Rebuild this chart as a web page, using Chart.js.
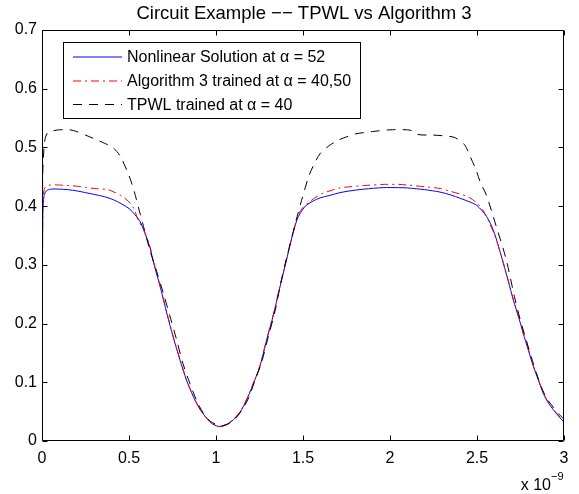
<!DOCTYPE html>
<html>
<head>
<meta charset="utf-8">
<script src="https://cdn.jsdelivr.net/npm/chart.js@4/dist/chart.umd.min.js"></script>
<style>
html,body{margin:0;padding:0;background:#fff;}
#wrap{width:579px;height:494px;}
</style>
</head>
<body>
<div id="wrap"><canvas id="c" width="579" height="494"></canvas></div>
<script>
// ---- data (time in units of 1e-9 s) ----
const titleText = 'Circuit Example \u2212\u2212 TPWL vs Algorithm 3';
const seriesNames = ['Nonlinear Solution at \u03b1 = 52', 'Algorithm 3 trained at \u03b1 = 40,50', 'TPWL trained at \u03b1 = 40'];
const xTickLabels = ['0', '0.5', '1', '1.5', '2', '2.5', '3'];
const yTickLabels = ['0', '0.1', '0.2', '0.3', '0.4', '0.5', '0.6', '0.7'];

const blueT = [0.002,0.005,0.012,0.025,0.05,0.1,0.15,0.2,0.25,0.3,0.36,0.41,0.456,0.5,0.533,0.563,0.59,0.62,0.64,0.68,0.717,0.755,0.793,0.83,0.87,0.91,0.946,0.98,1.023,1.06,1.1,1.138,1.176,1.215,1.253,1.291,1.33,1.368,1.4,1.425,1.45,1.473,1.5,1.521,1.56,1.598,1.65,1.713,1.77,1.85,1.96,2.05,2.1,2.2,2.287,2.35,2.402,2.46,2.5,2.556,2.594,2.62,2.651,2.68,2.709,2.74,2.766,2.795,2.824,2.855,2.881,2.91,2.939,2.97,3.0];
const blueV = [0.215,0.39,0.418,0.426,0.429,0.429,0.428,0.426,0.423,0.42,0.416,0.411,0.404,0.396,0.386,0.374,0.355,0.33,0.305,0.262,0.218,0.176,0.138,0.104,0.0755,0.053,0.039,0.029,0.0244,0.028,0.036,0.049,0.07,0.098,0.128,0.172,0.215,0.263,0.302,0.333,0.362,0.382,0.395,0.402,0.409,0.414,0.418,0.423,0.426,0.429,0.4315,0.4315,0.431,0.428,0.424,0.419,0.4135,0.407,0.401,0.382,0.359,0.335,0.303,0.272,0.24,0.21,0.183,0.155,0.127,0.102,0.081,0.065,0.053,0.042,0.032];

const redT = [0.002,0.005,0.012,0.025,0.05,0.1,0.15,0.2,0.25,0.3,0.38,0.42,0.46,0.5,0.53,0.55,0.59,0.62,0.64,0.68,0.717,0.755,0.793,0.83,0.87,0.91,0.946,0.98,1.023,1.06,1.1,1.138,1.176,1.215,1.253,1.291,1.33,1.368,1.4,1.425,1.45,1.473,1.5,1.54,1.6,1.655,1.713,1.77,1.85,1.96,2.05,2.1,2.2,2.29,2.35,2.42,2.46,2.5,2.54,2.57,2.6,2.63,2.651,2.68,2.709,2.74,2.766,2.795,2.824,2.855,2.881,2.91,2.939,2.97,3.0];
const redV = [0.205,0.4,0.428,0.434,0.436,0.436,0.435,0.434,0.432,0.43,0.428,0.423,0.417,0.407,0.395,0.378,0.356,0.331,0.307,0.263,0.219,0.177,0.139,0.105,0.076,0.053,0.039,0.03,0.025,0.029,0.037,0.05,0.071,0.099,0.129,0.173,0.216,0.264,0.303,0.334,0.363,0.385,0.398,0.408,0.42,0.426,0.431,0.433,0.435,0.437,0.437,0.436,0.433,0.43,0.425,0.419,0.414,0.405,0.39,0.372,0.352,0.325,0.304,0.273,0.241,0.211,0.184,0.156,0.128,0.103,0.082,0.066,0.054,0.043,0.033];

const blackT = [0.002,0.004,0.015,0.03,0.06,0.1,0.16,0.2,0.25,0.314,0.36,0.41,0.45,0.5,0.53,0.563,0.59,0.62,0.66,0.697,0.735,0.774,0.81,0.85,0.89,0.93,0.97,1.03,1.07,1.11,1.15,1.19,1.22,1.26,1.3,1.34,1.37,1.4,1.43,1.46,1.492,1.536,1.57,1.6,1.65,1.7,1.75,1.8,1.9,2.0,2.1,2.13,2.16,2.25,2.3,2.37,2.427,2.46,2.494,2.52,2.555,2.61,2.667,2.715,2.75,2.78,2.81,2.84,2.87,2.9,2.94,2.97,3.0];
const blackV = [0.21,0.45,0.51,0.524,0.528,0.53,0.53,0.527,0.521,0.513,0.507,0.499,0.485,0.452,0.425,0.388,0.358,0.325,0.288,0.252,0.213,0.172,0.132,0.098,0.068,0.046,0.033,0.026,0.029,0.038,0.053,0.075,0.1,0.132,0.177,0.222,0.266,0.305,0.34,0.375,0.41,0.453,0.475,0.49,0.503,0.512,0.518,0.523,0.527,0.53,0.53,0.528,0.522,0.521,0.52,0.517,0.505,0.485,0.462,0.44,0.418,0.366,0.31,0.246,0.205,0.175,0.145,0.117,0.092,0.073,0.057,0.046,0.037];

const seriesColors = ['#0000ff', '#ff0000', '#000000'];
const seriesDash = [[], [8, 4, 2, 4], [9, 7]];

// ---- build ----
const zip = (t, v) => t.map((x, i) => ({x: x, y: v[i]}));
const FONT = "'Liberation Sans', Arial, Helvetica, sans-serif";

const datasets = [zip(blueT, blueV), zip(redT, redV), zip(blackT, blackV)].map((d, i) => ({
  label: seriesNames[i],
  data: d,
  borderColor: seriesColors[i],
  borderWidth: 1,
  borderDash: seriesDash[i].slice(),
  pointRadius: 0,
  tension: 0.3,
  fill: false
})).reverse();

const matlabPlugin = {
  id: 'matlab',
  afterDatasetsDraw(chart) {
    const {ctx, chartArea: a, scales: {x, y}} = chart;
    const L = Math.round(a.left) + 0.5, R = Math.round(a.right) - 0.5;
    const T = Math.round(a.top) + 0.5, B = Math.round(a.bottom) - 0.5;
    ctx.save();
    ctx.strokeStyle = '#000';
    ctx.lineWidth = 1;
    ctx.setLineDash([]);
    ctx.beginPath();
    ctx.rect(L, T, R - L, B - T);
    const tl = 5;
    x.ticks.forEach(tk => {
      const px = Math.round(x.getPixelForValue(tk.value)) + 0.5;
      ctx.moveTo(px, B); ctx.lineTo(px, B - tl);
      ctx.moveTo(px, T); ctx.lineTo(px, T + tl);
    });
    y.ticks.forEach(tk => {
      const py = Math.round(y.getPixelForValue(tk.value)) + 0.5;
      ctx.moveTo(L, py); ctx.lineTo(L + tl, py);
      ctx.moveTo(R, py); ctx.lineTo(R - tl, py);
    });
    ctx.stroke();
    ctx.restore();
  },
  afterDraw(chart) {
    const {ctx, chartArea: a} = chart;
    ctx.save();
    // title
    ctx.fillStyle = '#000';
    ctx.font = '18.5px ' + FONT;
    ctx.textAlign = 'center';
    ctx.textBaseline = 'alphabetic';
    ctx.fillText(titleText, (a.left + a.right) / 2 + 1, 19);
    // exponent label
    ctx.font = '16px ' + FONT;
    ctx.textAlign = 'right';
    ctx.fillText('x 10', 551, 490);
    ctx.font = '11px ' + FONT;
    ctx.textAlign = 'left';
    ctx.fillText('\u22129', 551, 480);
    // legend
    const bx = 63.5, by = 42.5, bw = 297, bh = 76;
    ctx.fillStyle = '#fff';
    ctx.fillRect(bx, by, bw, bh);
    ctx.strokeStyle = '#000';
    ctx.lineWidth = 1;
    ctx.setLineDash([]);
    ctx.strokeRect(bx, by, bw, bh);
    const rows = [57, 81, 104.5];
    ctx.font = '16px ' + FONT;
    ctx.textBaseline = 'middle';
    for (let i = 0; i < seriesNames.length; i++) {
      ctx.save();
      ctx.strokeStyle = seriesColors[i];
      ctx.lineWidth = 1;
      ctx.setLineDash(seriesDash[i]);
      ctx.beginPath();
      ctx.moveTo(73, rows[i]);
      ctx.lineTo(122, rows[i]);
      ctx.stroke();
      ctx.restore();
      ctx.fillStyle = '#000';
      ctx.fillText(seriesNames[i], 127, Math.round(rows[i]) + 1);
    }
    ctx.restore();
  }
};

new Chart(document.getElementById('c'), {
  type: 'line',
  data: {datasets: datasets},
  options: {
    responsive: false,
    animation: false,
    devicePixelRatio: 1,
    layout: {padding: {top: 30, right: 15, bottom: 0, left: 0}},
    plugins: {legend: {display: false}, title: {display: false}, tooltip: {enabled: false}},
    scales: {
      x: {
        type: 'linear', min: 0, max: 3,
        grid: {display: false, drawTicks: false},
        border: {display: false},
        afterFit: s => { s.height = 53; },
        ticks: {
          stepSize: 0.5, autoSkip: false, maxRotation: 0, padding: 8,
          color: '#000', font: {family: FONT, size: 16},
          callback: (v, i) => xTickLabels[i]
        }
      },
      y: {
        type: 'linear', min: 0, max: 0.7,
        grid: {display: false, drawTicks: false},
        border: {display: false},
        afterFit: s => { s.width = 42; },
        ticks: {
          stepSize: 0.1, autoSkip: false, padding: 5,
          color: '#000', font: {family: FONT, size: 16},
          callback: (v, i) => yTickLabels[i]
        }
      }
    }
  },
  plugins: [matlabPlugin]
});
</script>
</body>
</html>
